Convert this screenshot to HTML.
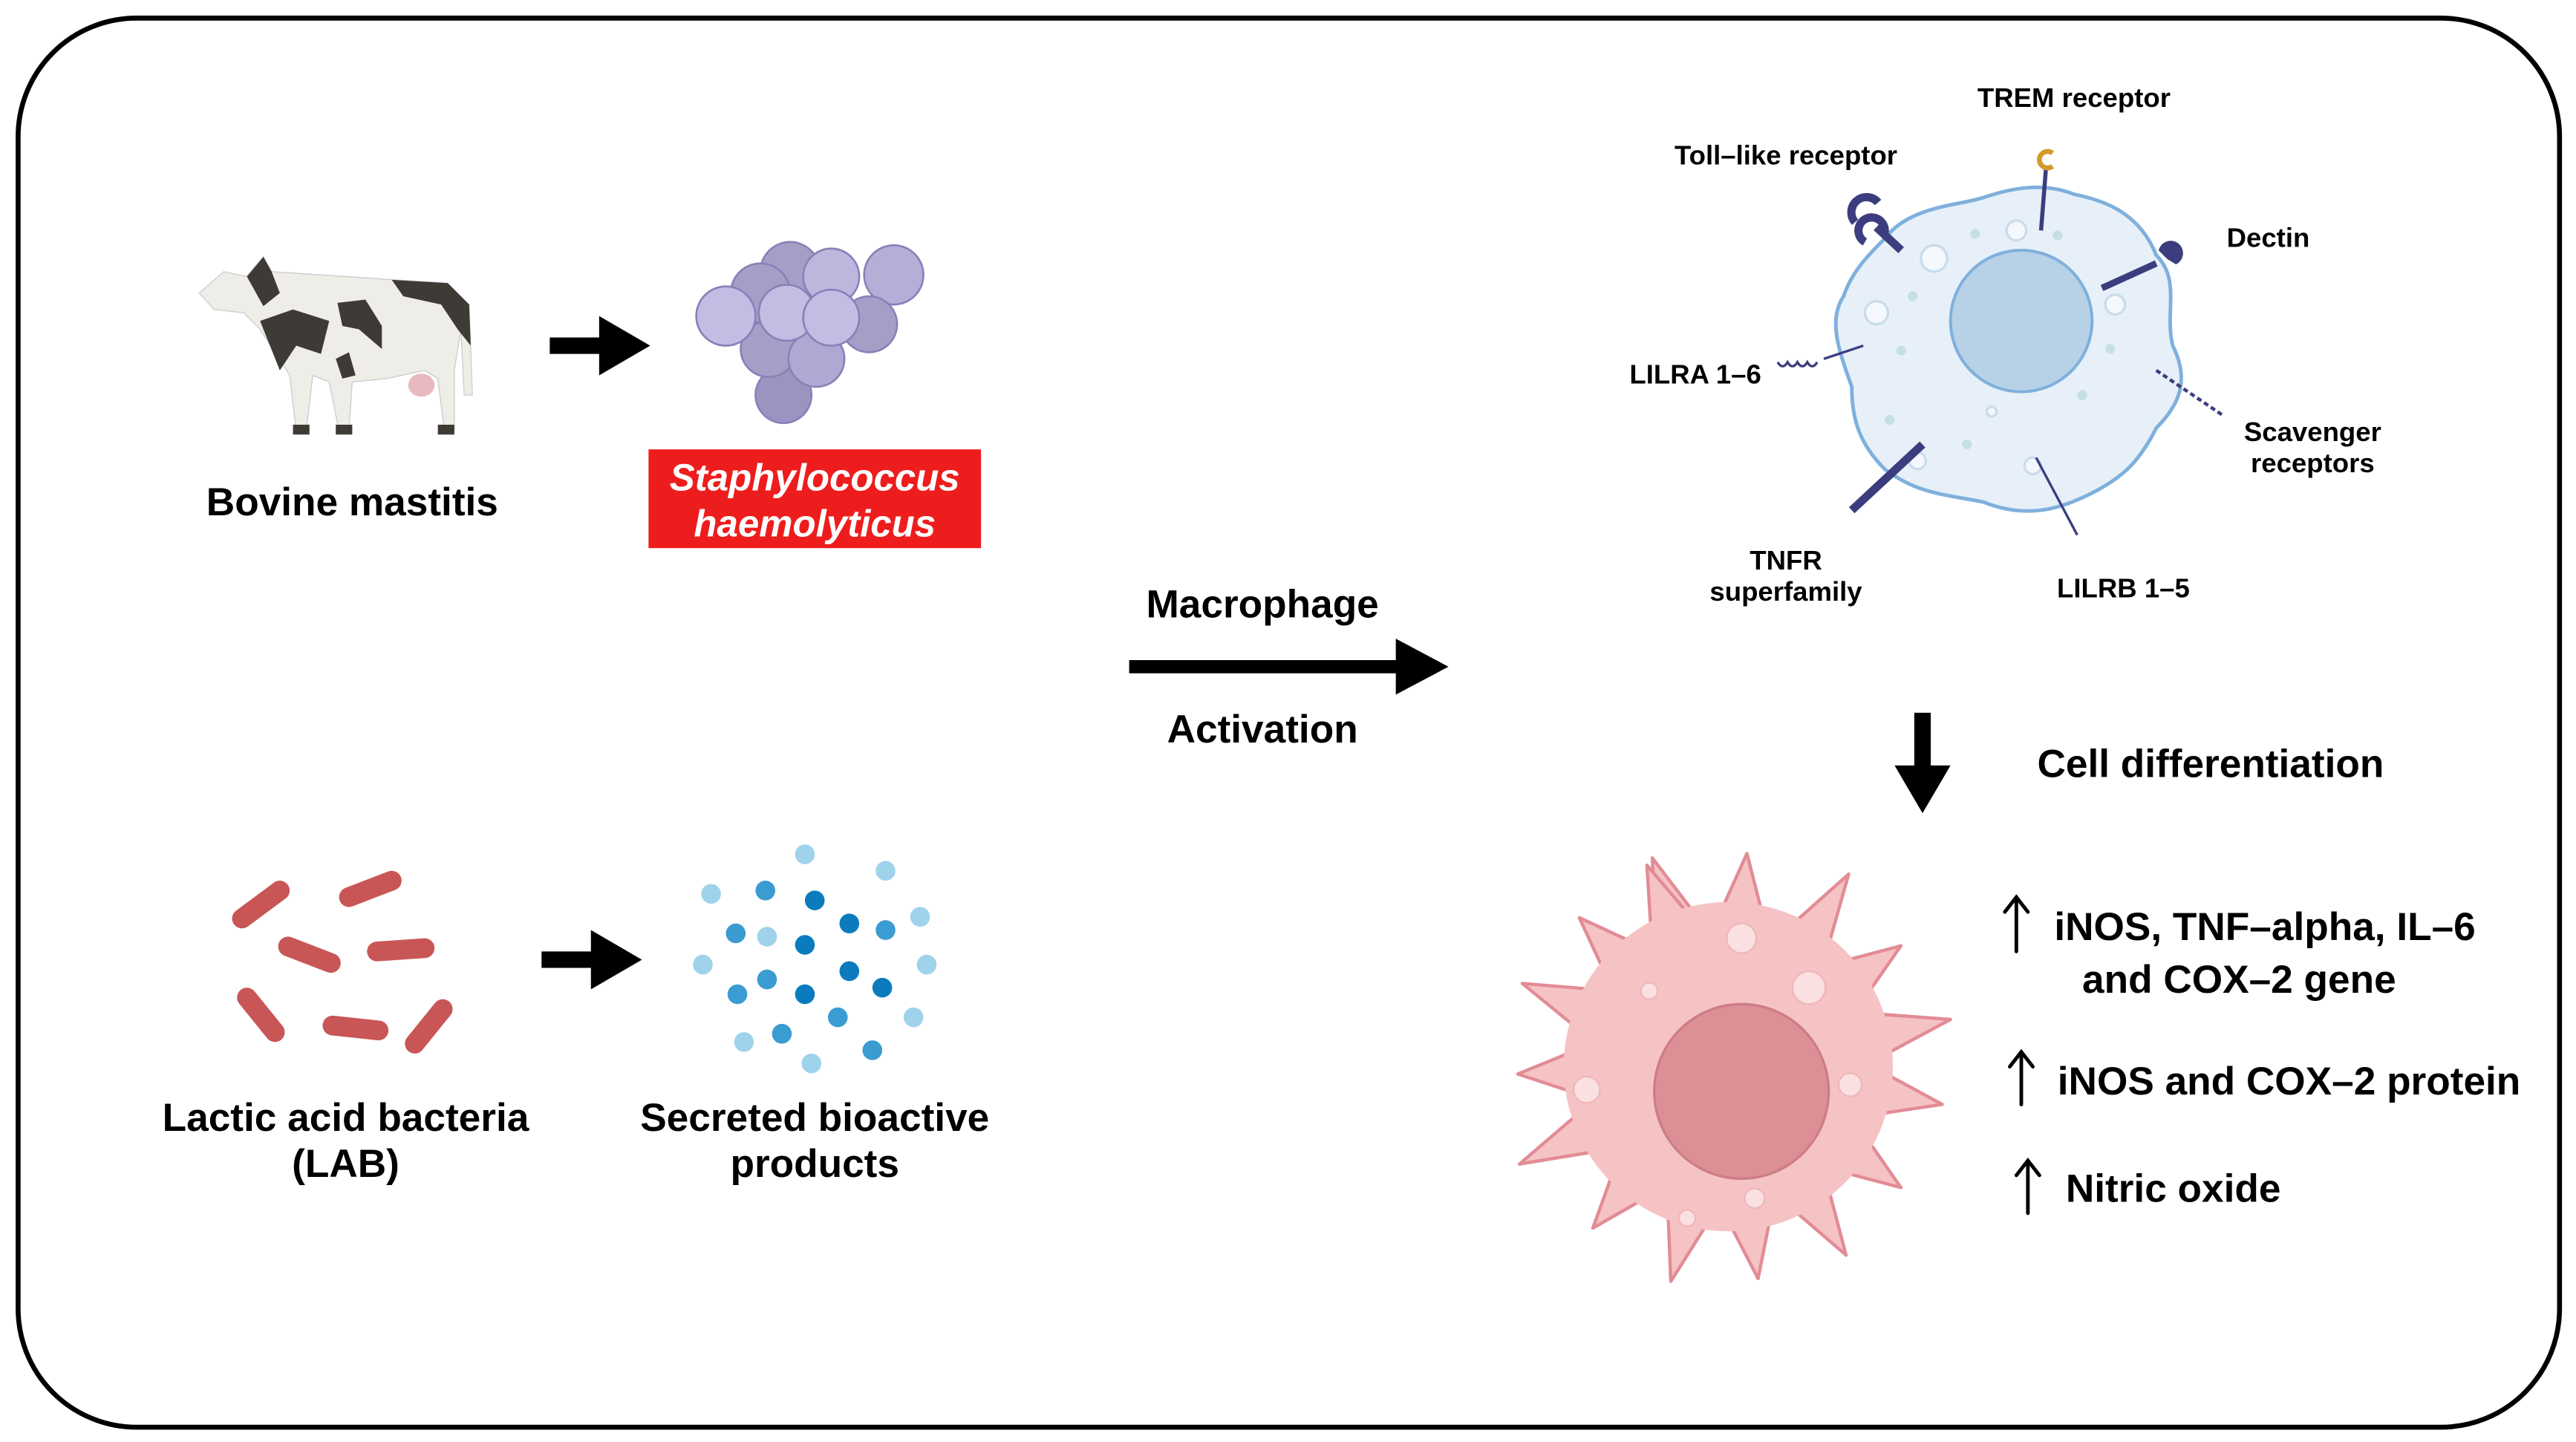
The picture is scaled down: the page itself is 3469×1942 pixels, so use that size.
<!DOCTYPE html>
<html><head><meta charset="utf-8"><style>
html,body{margin:0;padding:0;background:#fff;}
svg{display:block;}
text{font-family:"Liberation Sans",Arial,sans-serif;font-weight:bold;fill:#000;}
</style></head><body>
<svg width="3469" height="1942" viewBox="0 0 1565 876" preserveAspectRatio="none" xmlns="http://www.w3.org/2000/svg">
<rect x="11" y="11" width="1544" height="856" rx="72" ry="72" fill="#fff" stroke="#000" stroke-width="3"/>

<!-- Cow -->
<g>
<path d="M150,168 L160,156 L165,165 L240,170 L272,172 L285,185 L287,240 L282,240 L280,200 L276,225 L276,262 L270,262 L266,230 L258,225 L235,230 L214,232 L212,262 L206,262 L200,232 L190,228 L186,262 L180,262 L176,228 L158,200 L148,190 L130,188 L121,178 L136,165 Z" fill="#efede8" stroke="#ccc" stroke-width="0.6"/>
<path d="M150,168 L160,156 L165,165 L170,178 L160,186 Z" fill="#3e3b36"/>
<path d="M238,170 L272,172 L285,185 L286,210 L278,200 L268,185 L245,180 Z" fill="#3e3b36"/>
<path d="M158,195 L178,188 L200,195 L195,215 L180,210 L170,225 Z" fill="#3e3b36"/>
<path d="M205,184 L222,182 L232,198 L232,212 L218,200 L208,198 Z" fill="#3e3b36"/>
<path d="M204,218 L212,214 L216,228 L208,230 Z" fill="#3e3b36"/>
<ellipse cx="256" cy="234" rx="8" ry="7" fill="#e8b9c0"/>
<rect x="178" y="258" width="10" height="6" fill="#3e3b36"/><rect x="204" y="258" width="10" height="6" fill="#3e3b36"/><rect x="266" y="258" width="10" height="6" fill="#3e3b36"/>
</g>
<text x="214" y="313" font-size="24" text-anchor="middle">Bovine mastitis</text>

<!-- arrows -->
<path d="M334,205 h30 v-13 l31,18 -31,18 v-13 h-30z" fill="#000"/>
<path d="M329,578 h30 v-13 l31,18 -31,18 v-13 h-30z" fill="#000"/>

<!-- Staph cluster -->
<g stroke="#8a80b8" stroke-width="1.2">
<circle cx="480" cy="165" r="18" fill="#a79ec8"/>
<circle cx="462" cy="178" r="18" fill="#a79ec8"/>
<circle cx="543" cy="167" r="18" fill="#b7aed8"/>
<circle cx="505" cy="168" r="17" fill="#bfb6de"/>
<circle cx="528" cy="197" r="17" fill="#a79ec8"/>
<circle cx="476" cy="240" r="17" fill="#9d93c0"/>
<circle cx="467" cy="212" r="17" fill="#a79ec8"/>
<circle cx="496" cy="218" r="17" fill="#b0a7d2"/>
<circle cx="441" cy="192" r="18" fill="#c4bce3"/>
<circle cx="478" cy="190" r="17" fill="#c4bce3"/>
<circle cx="505" cy="193" r="17" fill="#c4bce3"/>
</g>
<rect x="394" y="273" width="202" height="60" fill="#ee1d1d"/>
<text x="495" y="298" font-size="23" font-style="italic" text-anchor="middle" style="fill:#fff">Staphylococcus</text>
<text x="495" y="326" font-size="23" font-style="italic" text-anchor="middle" style="fill:#fff">haemolyticus</text>

<!-- LAB rods -->
<g stroke="#c95656" stroke-width="12" stroke-linecap="round">
<line x1="147" y1="558" x2="170" y2="541"/>
<line x1="212" y1="545" x2="238" y2="535"/>
<line x1="175" y1="575" x2="201" y2="585"/>
<line x1="229" y1="578" x2="258" y2="576"/>
<line x1="150" y1="606" x2="167" y2="627"/>
<line x1="202" y1="623" x2="230" y2="626"/>
<line x1="252" y1="634" x2="269" y2="613"/>
</g>
<text x="210" y="687" font-size="24" text-anchor="middle">Lactic acid bacteria</text>
<text x="210" y="715" font-size="24" text-anchor="middle">(LAB)</text>

<!-- dots -->
<g>
<circle cx="489" cy="519" r="6" fill="#9fd3ec"/><circle cx="538" cy="529" r="6" fill="#9fd3ec"/>
<circle cx="432" cy="543" r="6" fill="#9fd3ec"/><circle cx="465" cy="541" r="6" fill="#3a9cd0"/>
<circle cx="495" cy="547" r="6" fill="#0a7cbd"/><circle cx="559" cy="557" r="6" fill="#9fd3ec"/>
<circle cx="447" cy="567" r="6" fill="#3a9cd0"/><circle cx="466" cy="569" r="6" fill="#9fd3ec"/>
<circle cx="516" cy="561" r="6" fill="#0a7cbd"/><circle cx="538" cy="565" r="6" fill="#3a9cd0"/>
<circle cx="489" cy="574" r="6" fill="#0a7cbd"/><circle cx="427" cy="586" r="6" fill="#9fd3ec"/>
<circle cx="563" cy="586" r="6" fill="#9fd3ec"/><circle cx="466" cy="595" r="6" fill="#3a9cd0"/>
<circle cx="516" cy="590" r="6" fill="#0a7cbd"/><circle cx="448" cy="604" r="6" fill="#3a9cd0"/>
<circle cx="489" cy="604" r="6" fill="#0a7cbd"/><circle cx="536" cy="600" r="6" fill="#0a7cbd"/>
<circle cx="509" cy="618" r="6" fill="#3a9cd0"/><circle cx="555" cy="618" r="6" fill="#9fd3ec"/>
<circle cx="452" cy="633" r="6" fill="#9fd3ec"/><circle cx="475" cy="628" r="6" fill="#3a9cd0"/>
<circle cx="530" cy="638" r="6" fill="#3a9cd0"/><circle cx="493" cy="646" r="6" fill="#9fd3ec"/>
</g>
<text x="495" y="687" font-size="24" text-anchor="middle">Secreted bioactive</text>
<text x="495" y="715" font-size="24" text-anchor="middle">products</text>

<!-- Macrophage activation -->
<text x="767" y="375" font-size="24" text-anchor="middle">Macrophage</text>
<path d="M686,401 h162 v-13 l32,17 -32,17 v-13 h-162z" fill="#000"/>
<text x="767" y="451" font-size="24" text-anchor="middle">Activation</text>

<!-- Resting macrophage -->
<path d="M1145,145 C1160,125 1190,125 1205,120 C1220,115 1240,110 1260,118 C1280,122 1300,130 1310,155 C1325,170 1315,190 1320,210 C1330,230 1325,245 1310,260 C1300,280 1290,290 1270,300 C1250,310 1230,315 1205,305 C1180,300 1165,300 1145,285 C1130,270 1125,255 1125,235 C1118,215 1110,195 1120,180 C1125,165 1135,155 1145,145Z" fill="#e7f0f8" stroke="#7fb0dc" stroke-width="2.2"/>
<circle cx="1228" cy="195" r="43" fill="#b7d1e7" stroke="#7fb0dc" stroke-width="1.8"/>
<g fill="#f4f8fc" stroke="#c9dcec" stroke-width="1.5">
<circle cx="1175" cy="157" r="8"/><circle cx="1225" cy="140" r="6"/><circle cx="1140" cy="190" r="7"/><circle cx="1285" cy="185" r="6"/><circle cx="1210" cy="250" r="3"/><circle cx="1165" cy="280" r="5"/><circle cx="1235" cy="283" r="5"/>
</g>
<g fill="#c6dfe6"><circle cx="1162" cy="180" r="3"/><circle cx="1200" cy="142" r="3"/><circle cx="1250" cy="143" r="3"/><circle cx="1155" cy="213" r="3"/><circle cx="1148" cy="255" r="3"/><circle cx="1195" cy="270" r="3"/><circle cx="1265" cy="240" r="3"/><circle cx="1282" cy="212" r="3"/></g>
<g stroke="#3b3d7e" fill="#3b3d7e">
<line x1="1240" y1="140" x2="1243" y2="102" stroke-width="2.5"/>
<path d="M1247,93 a5,5 0 1 0 0,8" fill="none" stroke="#d49a2a" stroke-width="3"/>
<path d="M1127,135 a9,9 0 1 1 14,-12 M1133,147 a8,8 0 1 1 12,-6" fill="none" stroke-width="5"/>
<line x1="1140" y1="138" x2="1155" y2="152" stroke-width="5"/>
<line x1="1277" y1="175" x2="1310" y2="160" stroke-width="4"/>
<path d="M1312,152 a7,7 0 1 1 10,8 l-5,-3 z"/>
<path d="M1080,220 q3,5 6,0 q3,5 6,0 q3,5 6,0 q3,5 6,0" fill="none" stroke-width="1.5"/>
<line x1="1108" y1="218" x2="1132" y2="210" stroke-width="1.5"/>
<line x1="1310" y1="225" x2="1350" y2="252" stroke-width="2" stroke-dasharray="3,2"/>
<line x1="1125" y1="310" x2="1168" y2="270" stroke-width="5"/>
<line x1="1237" y1="278" x2="1262" y2="325" stroke-width="1.5"/>
</g>
<g font-size="16.5">
<text x="1260" y="65" text-anchor="middle">TREM receptor</text>
<text x="1085" y="100" text-anchor="middle">Toll–like receptor</text>
<text x="1378" y="150" text-anchor="middle">Dectin</text>
<text x="1030" y="233" text-anchor="middle">LILRA 1–6</text>
<text x="1405" y="268" text-anchor="middle">Scavenger</text>
<text x="1405" y="287" text-anchor="middle">receptors</text>
<text x="1085" y="346" text-anchor="middle">TNFR</text>
<text x="1085" y="365" text-anchor="middle">superfamily</text>
<text x="1290" y="363" text-anchor="middle">LILRB 1–5</text>
</g>

<!-- down arrow -->
<path d="M1163,433 h10 v32 h12 l-17,29 -17,-29 h12z" fill="#000"/>
<text x="1343" y="472" font-size="24" text-anchor="middle">Cell differentiation</text>

<!-- activated macrophage -->
<g fill="#f6c3c5" stroke="#e28c95" stroke-width="2" stroke-linejoin="round">
<g transform="translate(1050,648)">
<polygon points="-14,-90 14,-90 0,-135" transform="rotate(-20)"/>
<polygon points="-14,-90 14,-90 0,-130" transform="rotate(5)"/>
<polygon points="-14,-90 14,-90 0,-138" transform="rotate(32)"/>
<polygon points="-14,-90 14,-90 0,-128" transform="rotate(55)"/>
<polygon points="-14,-90 14,-90 0,-138" transform="rotate(78)"/>
<polygon points="-14,-90 14,-90 0,-132" transform="rotate(100)"/>
<polygon points="-14,-90 14,-90 0,-128" transform="rotate(125)"/>
<polygon points="-14,-90 14,-90 0,-135" transform="rotate(148)"/>
<polygon points="-14,-90 14,-90 0,-130" transform="rotate(172)"/>
<polygon points="-14,-90 14,-90 0,-135" transform="rotate(195)"/>
<polygon points="-14,-90 14,-90 0,-128" transform="rotate(220)"/>
<polygon points="-14,-90 14,-90 0,-140" transform="rotate(245)"/>
<polygon points="-14,-90 14,-90 0,-128" transform="rotate(268)"/>
<polygon points="-14,-90 14,-90 0,-135" transform="rotate(292)"/>
<polygon points="-14,-90 14,-90 0,-128" transform="rotate(315)"/>
<polygon points="-14,-90 14,-90 0,-132" transform="rotate(338)"/>
</g>
</g>
<circle cx="1050" cy="648" r="100" fill="#f6c3c5"/>
<circle cx="1058" cy="663" r="53" fill="#dc8f95" stroke="#cd7d85" stroke-width="1.5"/>
<g fill="#fbe0e1" stroke="#efb6ba" stroke-width="1">
<circle cx="1058" cy="570" r="9"/><circle cx="1099" cy="600" r="10"/><circle cx="964" cy="662" r="8"/><circle cx="1124" cy="659" r="7"/><circle cx="1066" cy="728" r="6"/><circle cx="1002" cy="602" r="5"/><circle cx="1025" cy="740" r="5"/>
</g>

<!-- up arrows -->
<g stroke="#000" stroke-width="2.2" fill="none" stroke-linecap="round">
<path d="M1225,578 V546 M1218,554 L1225,545 L1232,554"/>
<path d="M1228,671 V640 M1221,648 L1228,639 L1235,648"/>
<path d="M1232,737 V706 M1225,714 L1232,705 L1239,714"/>
</g>
<g font-size="24">
<text x="1248" y="571">iNOS, TNF–alpha, IL–6</text>
<text x="1265" y="603">and COX–2 gene</text>
<text x="1250" y="665">iNOS and COX–2 protein</text>
<text x="1255" y="730">Nitric oxide</text>
</g>
</svg>
</body></html>
